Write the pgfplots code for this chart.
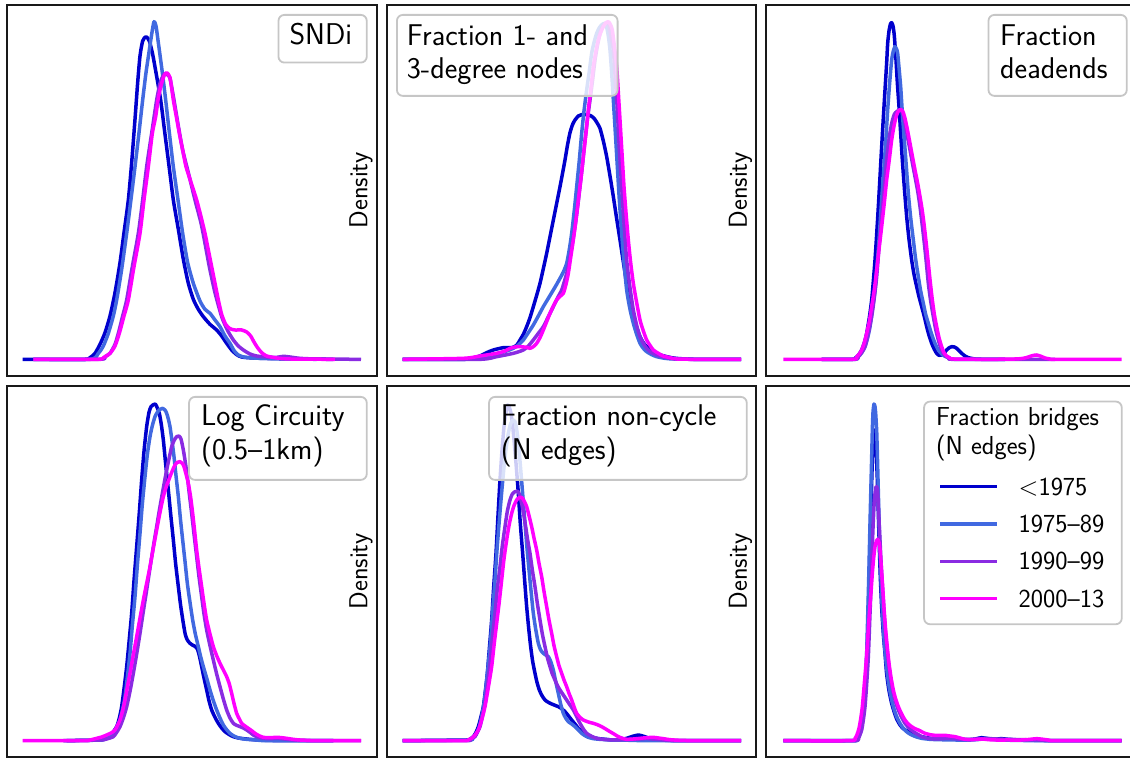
\documentclass[border=0pt]{standalone}
\usepackage{fontspec}
\usepackage{pgfplots}
\pgfplotsset{compat=1.18}
\definecolor{cA}{RGB}{0,0,205}
\definecolor{cB}{RGB}{65,105,225}
\definecolor{cC}{RGB}{138,43,226}
\definecolor{cD}{RGB}{255,0,255}
\pgfplotsset{
  panel/.style={scale only axis, width=369.5pt, height=371pt,
    xtick=\empty, ytick=\empty, no markers,
    axis line style={line width=2pt, black!90},
    every axis plot/.append style={line width=3.5pt, smooth, tension=0.4, line join=round}},
  col1/.style={xmin=21, xmax=1129.5},
  col2/.style={xmin=19.5, xmax=1128, ylabel={Density}},
  col3/.style={xmin=33, xmax=1141.5, ylabel={Density}},
  row1/.style={ymin=-50, ymax=1063},
  row2/.style={ymin=-49, ymax=1064},
  every axis y label/.style={at={(axis description cs:-0.037,0.5)}, rotate=90, anchor=south, inner sep=0pt,
    font=\sffamily\fontsize{26}{29}\selectfont},
}
\tikzset{
  box/.style={draw=gray!45, fill=white, fill opacity=0.8, line width=1.8pt, rounded corners=6pt, inner sep=0pt},
  ann/.style={anchor=base west, inner sep=0pt, font=\sffamily\fontsize{30}{33}\selectfont},
  ttl/.style={anchor=base west, inner sep=0pt, font=\sffamily\fontsize{26}{29}\selectfont},
}
\begin{document}
\begin{tikzpicture}
\useasboundingbox (0pt,0pt) rectangle (1130pt,759pt);
\clip (0pt,0pt) rectangle (1130pt,759pt);

% ---------------- Panel 1: SNDi
\begin{axis}[panel, col1, row1, at={(7pt,383pt)}, anchor=south west]
\addplot[cA] coordinates {(68,0)(250,0)(270,5)(285,18)(300,45)(315,80)(330,130)(345,200)(360,290)(372,380)(385,478)(395,590)(405,720)(413,830)(420,910)(428,955)(438,968)(448,955)(458,915)(468,860)(482,778)(495,675)(508,573)(520,478)(535,390)(550,300)(565,228)(580,180)(595,150)(610,128)(630,105)(650,88)(665,70)(680,48)(695,28)(710,14)(725,7)(760,4)(820,2)(900,1)(1000,0)};
\addplot[cB] coordinates {(100,0)(270,0)(295,18)(310,40)(325,78)(340,130)(350,178)(365,270)(380,378)(393,480)(405,578)(417,680)(428,778)(438,860)(448,928)(455,975)(462,1013)(468,1000)(475,950)(487,860)(497,778)(508,680)(520,578)(534,478)(548,378)(563,290)(580,228)(600,175)(615,150)(630,138)(645,118)(660,98)(675,70)(690,48)(703,25)(715,13)(735,6)(780,3)(850,2)(950,0)};
\addplot[cC] coordinates {(100,0)(300,0)(315,8)(330,18)(345,45)(355,78)(368,130)(380,178)(397,278)(415,378)(428,478)(440,578)(455,678)(470,778)(480,828)(488,848)(495,858)(503,853)(510,843)(522,778)(535,700)(548,628)(565,560)(585,478)(605,400)(628,278)(645,200)(665,128)(682,88)(700,58)(715,40)(730,28)(750,16)(770,10)(800,7)(830,6)(850,9)(870,7)(900,3)(950,1)(1083,0)};
\addplot[cD] coordinates {(100,0)(290,0)(310,5)(330,18)(345,40)(358,78)(372,130)(385,178)(402,278)(420,378)(432,478)(445,578)(457,678)(467,728)(476,790)(485,828)(492,850)(500,860)(510,845)(520,778)(529,728)(538,678)(548,628)(558,578)(574,528)(590,478)(603,428)(615,378)(625,328)(635,278)(645,228)(655,178)(665,135)(677,105)(690,92)(705,88)(725,88)(740,82)(752,70)(762,52)(772,36)(785,20)(800,10)(830,4)(870,1)(1005,0)};
\node[box, anchor=north east, minimum width=88.3pt, minimum height=47.7pt] at (axis cs:1103,1036) {};
\node[ann] at (axis cs:868,943) {SNDi};
\end{axis}

% ---------------- Panel 2: Fraction 1- and 3-degree nodes
\begin{axis}[panel, col2, row1, at={(386.5pt,383pt)}, anchor=south west]
\addplot[cA] coordinates {(68,0)(250,0)(280,4)(300,10)(320,20)(340,28)(370,35)(395,35)(410,42)(420,58)(430,75)(440,98)(450,125)(460,158)(470,192)(480,228)(490,272)(500,318)(510,368)(520,418)(530,468)(540,518)(548,560)(555,598)(562,640)(570,680)(578,705)(585,718)(595,730)(605,734)(620,734)(632,731)(643,722)(652,708)(660,693)(670,655)(680,608)(690,550)(700,488)(710,422)(720,358)(730,292)(740,228)(750,175)(760,128)(770,95)(780,68)(790,50)(800,38)(815,26)(830,18)(845,12)(860,8)(880,4)(900,2)(950,0)(1083,0)};
\addplot[cB] coordinates {(68,0)(250,0)(300,6)(350,16)(380,25)(400,33)(415,43)(430,58)(445,80)(460,103)(475,130)(490,158)(505,183)(520,208)(530,225)(540,243)(550,262)(560,288)(568,330)(575,378)(583,448)(590,518)(598,598)(605,678)(612,745)(620,808)(628,865)(635,918)(642,950)(650,978)(658,995)(665,1003)(672,1008)(679,1000)(685,970)(690,928)(695,860)(700,778)(706,680)(712,578)(718,478)(725,378)(732,290)(740,208)(750,150)(760,108)(770,75)(780,48)(790,33)(800,23)(815,14)(830,8)(855,3)(880,1)(950,0)(1083,0)};
\addplot[cC] coordinates {(68,0)(300,0)(350,8)(400,18)(430,28)(445,40)(460,58)(475,78)(490,98)(505,128)(520,158)(533,185)(545,208)(555,240)(565,278)(575,335)(585,398)(593,458)(600,518)(608,588)(615,658)(622,718)(630,778)(638,840)(645,898)(652,940)(660,978)(668,998)(676,1008)(685,1010)(692,975)(700,928)(706,840)(712,748)(718,630)(725,518)(732,408)(740,298)(750,215)(760,148)(770,102)(780,68)(790,48)(800,33)(815,20)(830,13)(850,7)(870,3)(900,1)(950,0)(1083,0)};
\addplot[cD] coordinates {(68,0)(250,3)(300,10)(350,18)(375,25)(390,33)(405,37)(420,38)(440,36)(450,33)(460,38)(470,48)(480,65)(490,88)(500,113)(510,138)(520,160)(530,178)(540,189)(550,198)(558,225)(565,258)(572,305)(580,358)(588,418)(595,478)(603,543)(610,608)(618,678)(625,748)(633,815)(640,878)(648,925)(655,958)(662,980)(670,998)(678,1010)(685,1013)(691,1005)(697,988)(703,940)(710,878)(715,800)(720,718)(726,618)(732,518)(738,440)(745,358)(752,290)(760,228)(770,170)(780,118)(790,85)(800,58)(810,42)(820,28)(835,18)(850,10)(870,5)(890,1)(950,0)(1083,0)};
\node[box, anchor=north west, minimum width=220.7pt, minimum height=81pt] at (axis cs:48,1036) {};
\node[ann] at (axis cs:80,941) {Fraction 1- and};
\node[ann] at (axis cs:80,842) {3-degree nodes};
\end{axis}

% ---------------- Panel 3: Fraction deadends
\begin{axis}[panel, col3, row1, at={(766pt,383pt)}, anchor=south west]
\addplot[cA] coordinates {(200,0)(290,0)(300,3)(310,12)(320,28)(328,50)(335,78)(343,125)(350,178)(355,235)(360,298)(365,375)(370,458)(375,548)(380,638)(385,725)(390,808)(395,890)(398,948)(402,985)(406,1005)(410,1010)(414,1000)(418,970)(423,898)(427,830)(432,758)(437,678)(442,598)(448,515)(455,428)(462,360)(470,298)(477,255)(485,218)(492,188)(500,158)(508,128)(515,98)(522,72)(530,48)(538,30)(545,18)(552,12)(560,13)(568,20)(575,28)(583,35)(590,38)(598,37)(605,33)(612,26)(620,18)(630,10)(640,5)(660,1)(690,0)(750,0)};
\addplot[cB] coordinates {(200,0)(300,0)(310,8)(320,20)(330,38)(338,65)(345,98)(352,150)(360,208)(366,280)(372,358)(378,450)(385,548)(392,650)(398,748)(404,830)(410,898)(415,925)(420,938)(425,930)(428,918)(432,875)(437,818)(442,740)(448,658)(454,578)(460,498)(467,425)(475,358)(482,300)(490,248)(497,205)(505,168)(512,135)(520,108)(530,75)(540,48)(550,28)(560,16)(570,9)(580,5)(600,0)(750,0)};
\addplot[cC] coordinates {(200,0)(300,0)(310,8)(320,20)(330,38)(340,78)(350,128)(358,185)(365,248)(372,335)(380,428)(388,515)(395,598)(402,660)(410,708)(418,735)(425,743)(432,748)(438,748)(444,735)(450,708)(457,670)(465,628)(472,590)(480,548)(488,505)(495,458)(502,400)(508,348)(514,290)(520,228)(527,175)(535,128)(542,90)(550,58)(557,35)(565,18)(575,8)(585,3)(600,0)(900,0)};
\addplot[cD] coordinates {(85,0)(290,0)(305,8)(312,15)(320,28)(328,50)(335,78)(343,115)(350,158)(358,210)(365,268)(372,330)(380,398)(388,470)(395,538)(403,600)(410,658)(418,705)(425,733)(431,746)(437,750)(443,745)(450,723)(457,690)(465,648)(472,610)(480,568)(488,528)(495,488)(502,445)(508,398)(514,345)(520,288)(526,230)(532,178)(538,135)(545,98)(552,65)(560,38)(567,20)(575,10)(585,4)(595,1)(700,0)(780,1)(805,3)(820,7)(832,11)(845,13)(858,9)(870,4)(885,1)(900,0)(1100,0)};
\node[box, anchor=north east, minimum width=138.3pt, minimum height=81pt] at (axis cs:1118,1036) {};
\node[ann] at (axis cs:735,941) {Fraction};
\node[ann] at (axis cs:735,842) {deadends};
\end{axis}

% ---------------- Panel 4: Log Circuity
\begin{axis}[panel, col1, row2, at={(7pt,2pt)}, anchor=south west]
\addplot[cA] coordinates {(190,0)(300,2)(320,7)(335,20)(350,42)(358,68)(365,102)(372,155)(380,222)(387,295)(395,382)(402,480)(410,582)(418,685)(425,782)(432,868)(440,942)(447,985)(453,1002)(460,1008)(466,1010)(472,998)(478,982)(484,948)(490,902)(497,830)(505,752)(512,680)(520,602)(527,530)(535,462)(542,405)(550,352)(556,318)(562,302)(570,292)(577,287)(585,283)(592,275)(598,255)(605,222)(612,188)(620,152)(627,120)(635,92)(645,70)(655,52)(665,38)(675,27)(688,18)(700,12)(715,8)(730,6)(760,3)(800,1)(850,0)(1000,0)};
\addplot[cB] coordinates {(200,0)(300,2)(325,10)(340,20)(350,38)(360,62)(368,95)(375,132)(382,190)(390,262)(397,345)(405,432)(412,525)(420,622)(427,710)(435,792)(442,858)(450,912)(457,945)(465,972)(472,985)(480,994)(488,997)(495,992)(500,982)(505,965)(510,942)(516,900)(522,852)(528,795)(535,732)(541,668)(548,602)(555,538)(562,472)(570,415)(578,362)(586,320)(595,282)(602,252)(610,222)(620,188)(630,152)(640,120)(650,92)(660,68)(670,47)(680,33)(690,22)(700,15)(710,10)(725,6)(740,4)(770,2)(800,0)(1000,0)};
\addplot[cC] coordinates {(200,0)(300,2)(320,5)(340,12)(350,25)(360,42)(370,68)(380,102)(390,148)(400,202)(410,260)(420,322)(430,388)(440,452)(450,518)(460,582)(470,642)(480,702)(490,758)(500,812)(508,850)(515,882)(522,900)(530,912)(537,914)(543,905)(550,872)(556,835)(562,792)(568,740)(575,682)(582,620)(590,552)(597,492)(605,432)(612,380)(620,332)(630,285)(640,242)(650,200)(660,162)(670,125)(680,92)(690,68)(700,52)(710,46)(720,42)(730,38)(740,32)(750,25)(760,17)(775,10)(790,7)(810,6)(830,7)(845,6)(860,4)(880,2)(900,1)(950,0)(1083,0)};
\addplot[cD] coordinates {(68,0)(250,0)(270,2)(290,7)(305,11)(320,17)(335,24)(345,32)(352,45)(360,62)(368,90)(375,122)(382,160)(390,202)(400,258)(410,312)(420,368)(430,422)(440,472)(450,522)(460,578)(470,632)(480,685)(490,732)(500,765)(510,792)(518,812)(525,827)(532,835)(540,837)(547,832)(552,822)(558,800)(565,772)(572,730)(578,682)(584,628)(590,572)(597,518)(605,462)(612,412)(620,362)(630,320)(640,282)(650,255)(660,232)(670,212)(680,192)(688,170)(695,142)(702,112)(710,82)(718,65)(725,52)(735,44)(745,37)(755,30)(765,22)(777,15)(790,10)(810,9)(830,10)(845,9)(860,7)(880,4)(900,2)(950,0)(1083,0)};
\node[box, anchor=north east, minimum width=177.7pt, minimum height=83pt] at (axis cs:1103,1034) {};
\node[ann] at (axis cs:603,945) {Log Circuity};
\node[ann] at (axis cs:603,844) {(0.5--1km)};
\end{axis}

% ---------------- Panel 5: Fraction non-cycle
\begin{axis}[panel, col2, row2, at={(386.5pt,2pt)}, anchor=south west]
\addplot[cA] coordinates {(68,0)(260,2)(270,5)(280,12)(288,25)(295,42)(302,68)(310,102)(316,148)(322,202)(328,275)(335,362)(341,460)(348,562)(354,675)(360,782)(366,870)(372,942)(378,985)(383,1007)(388,1000)(393,982)(398,945)(403,892)(409,820)(415,742)(421,650)(428,562)(434,480)(440,402)(446,338)(452,282)(458,238)(465,202)(471,175)(478,152)(486,135)(495,122)(505,115)(515,110)(525,106)(535,102)(545,96)(555,87)(565,75)(575,62)(585,50)(595,37)(607,26)(620,17)(635,11)(650,7)(675,4)(700,2)(720,3)(740,7)(758,13)(775,17)(788,14)(800,10)(815,5)(830,3)(860,1)(900,0)(1083,0)};
\addplot[cB] coordinates {(68,0)(265,2)(278,8)(290,22)(298,42)(305,72)(312,112)(318,162)(325,230)(332,302)(338,390)(345,482)(351,572)(358,662)(365,745)(372,822)(378,875)(385,922)(391,948)(398,962)(405,957)(409,940)(413,912)(418,862)(423,802)(429,728)(435,652)(441,578)(448,502)(454,440)(460,382)(467,335)(475,292)(482,272)(490,262)(497,257)(505,252)(512,238)(520,212)(527,178)(535,142)(542,110)(550,82)(557,68)(565,57)(575,50)(585,42)(595,32)(605,22)(615,15)(625,10)(640,6)(660,4)(700,2)(760,1)(800,0)(1083,0)};
\addplot[cC] coordinates {(68,0)(260,0)(272,5)(285,12)(292,25)(300,42)(307,72)(315,112)(322,165)(330,232)(337,305)(345,382)(352,455)(360,522)(367,585)(375,642)(382,688)(390,722)(397,740)(405,747)(410,748)(415,747)(420,732)(425,712)(431,680)(437,642)(443,602)(450,562)(457,512)(465,462)(472,412)(480,362)(487,320)(495,282)(502,250)(510,222)(517,200)(525,182)(532,166)(540,152)(550,137)(560,122)(570,107)(580,92)(590,72)(600,52)(610,35)(620,22)(635,13)(650,7)(670,4)(700,2)(730,3)(760,4)(780,5)(800,6)(830,4)(850,2)(900,0)(1083,0)};
\addplot[cD] coordinates {(68,0)(250,0)(265,3)(275,7)(285,17)(295,32)(305,62)(315,102)(325,160)(335,222)(342,285)(350,352)(358,418)(365,482)(372,545)(380,602)(387,645)(395,682)(402,705)(410,722)(417,729)(425,730)(432,720)(440,702)(447,675)(455,642)(462,608)(470,572)(477,532)(485,492)(492,448)(500,402)(507,362)(515,322)(522,285)(530,252)(537,225)(545,202)(552,182)(560,162)(567,142)(575,122)(582,102)(590,82)(600,70)(610,62)(625,56)(640,52)(652,48)(665,42)(677,35)(690,27)(702,20)(715,12)(728,7)(740,4)(760,5)(780,7)(800,9)(820,10)(835,8)(850,6)(870,3)(900,1)(950,0)(1083,0)};
\node[box, anchor=north east, minimum width=257.7pt, minimum height=83pt] at (axis cs:1103,1034) {};
\node[ann] at (axis cs:362,945) {Fraction non-cycle};
\node[ann] at (axis cs:362,844) {(N edges)};
\end{axis}

% ---------------- Panel 6: Fraction bridges
\begin{axis}[panel, col3, row2, at={(766pt,2pt)}, anchor=south west,
  legend entries={<1975, 1975--89, 1990--99, 2000--13},
  legend cell align=left,
  legend image code/.code={\draw[#1] (0pt,0pt) -- (56.7pt,0pt);},
  legend style={draw=none, fill=none, at={(axis cs:550,594)}, anchor=west, inner sep=0pt,
    row sep=10.3pt, column sep=20pt, font=\sffamily\fontsize{26}{29}\selectfont,
    nodes={inner sep=0pt, text height=22pt, text depth=5pt}}]
\addplot[cA] coordinates {(85,0)(290,0)(305,4)(315,22)(320,45)(325,82)(329,135)(333,202)(337,290)(340,382)(343,500)(346,632)(349,740)(352,840)(355,905)(358,932)(361,915)(364,860)(367,782)(370,680)(373,580)(376,490)(380,400)(385,320)(390,262)(395,200)(402,150)(410,112)(418,85)(425,65)(435,47)(445,36)(458,28)(470,22)(485,16)(500,12)(520,8)(550,5)(600,5)(640,3)(660,5)(680,9)(700,6)(720,5)(740,6)(760,4)(800,2)(850,1)(900,0)(1100,0)};
\addplot[cB] coordinates {(85,0)(295,0)(305,4)(312,12)(320,42)(324,80)(328,122)(332,190)(335,262)(338,370)(341,482)(344,610)(347,732)(350,850)(352,932)(354,985)(357,1010)(360,1002)(362,982)(365,930)(367,862)(370,745)(373,632)(376,540)(380,432)(384,355)(388,292)(393,238)(398,192)(404,152)(410,122)(417,95)(425,72)(435,52)(445,37)(457,25)(470,17)(485,11)(500,7)(525,4)(550,3)(600,2)(650,2)(675,4)(690,7)(705,5)(730,2)(780,1)(850,0)(1100,0)};
\addplot[cC] coordinates {(85,0)(295,0)(310,7)(315,18)(320,32)(325,62)(330,102)(335,170)(340,252)(344,355)(348,462)(351,560)(355,662)(358,720)(362,758)(365,762)(368,745)(372,662)(376,580)(380,502)(385,420)(390,342)(396,275)(402,222)(408,180)(415,142)(422,115)(430,92)(440,70)(450,52)(462,38)(475,27)(490,18)(500,12)(520,7)(540,5)(560,6)(580,7)(600,6)(620,4)(650,4)(700,6)(750,4)(800,3)(850,2)(900,0)(1100,0)};
\addplot[cD] coordinates {(85,0)(285,0)(300,7)(306,18)(312,37)(317,65)(322,102)(327,160)(333,232)(338,305)(343,382)(348,445)(352,502)(356,548)(360,582)(364,598)(368,604)(372,595)(375,572)(379,520)(383,462)(387,398)(392,332)(397,280)(402,232)(408,190)(415,152)(422,125)(430,102)(440,80)(450,62)(460,50)(470,42)(480,36)(490,32)(500,27)(510,22)(525,18)(540,16)(555,16)(570,16)(585,14)(600,12)(615,8)(630,4)(650,3)(680,5)(700,3)(720,2)(760,2)(800,2)(825,4)(845,6)(865,4)(880,2)(900,0)(1100,0)};
\node[box, anchor=north east, minimum width=197.7pt, minimum height=222.7pt] at (axis cs:1103,1020) {};
\node[ttl] at (axis cs:543,944) {Fraction bridges};
\node[ttl] at (axis cs:543,857) {(N edges)};
\end{axis}
\end{tikzpicture}
\end{document}
